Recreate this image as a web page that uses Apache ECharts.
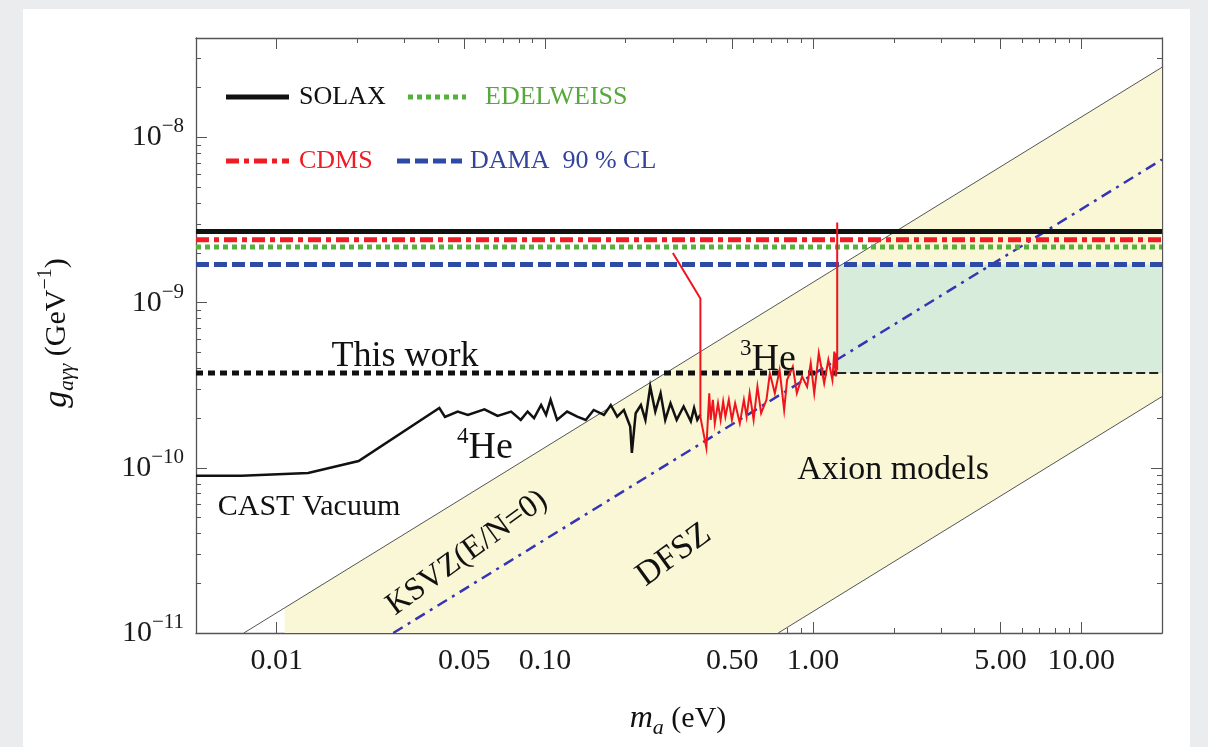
<!DOCTYPE html>
<html><head><meta charset="utf-8">
<script src="https://cdn.jsdelivr.net/npm/echarts@6/dist/echarts.min.js"></script>
<style>
html,body{margin:0;padding:0;background:#ebecee;overflow:hidden;}
#panel{position:absolute;left:23px;top:9px;width:1167px;height:760px;background:#ffffff;}
#c{position:absolute;left:0;top:0;width:1208px;height:747px;}
</style>
</head><body><div id="panel"></div><div id="c"></div>
<script>
// ---------- data ----------
const xMin = 0.005, xMax = 20, yMin = 1e-11, yMax = 4e-8;
const xMajorTicks = [0.01, 0.05, 0.1, 0.5, 1, 5, 10];
const xTickLabels = ['0.01', '0.05', '0.10', '0.50', '1.00', '5.00', '10.00'];
const xMinorTicks = [0.02, 0.03, 0.04, 0.06, 0.07, 0.08, 0.09, 0.2, 0.3, 0.4, 0.6, 0.7, 0.8, 0.9, 2, 3, 4, 6, 7, 8, 9];
const yMajorTicks = [1e-11, 1e-10, 1e-9, 1e-8];
const yTickExponents = ['\u221211', '\u221210', '\u22129', '\u22128'];
const yMinorTicks = [2e-11, 3e-11, 4e-11, 5e-11, 6e-11, 7e-11, 8e-11, 9e-11,
  2e-10, 3e-10, 4e-10, 5e-10, 6e-10, 7e-10, 8e-10, 9e-10,
  2e-9, 3e-9, 4e-9, 5e-9, 6e-9, 7e-9, 8e-9, 9e-9, 2e-8, 3e-8];

// horizontal exclusion limits
const limitNames = ['SOLAX', 'CDMS', 'EDELWEISS', 'DAMA 90% CL', 'This work'];
const limitValues = [2.7e-9, 2.4e-9, 2.17e-9, 1.7e-9, 3.75e-10];
const he3EdgeMass = 1.23;

// axion model band edges and KSVZ line (endpoints)
const bandUpperM = [0.00754, 20], bandUpperG = [1e-11, 2.66e-8];
const bandLowerM = [0.741, 20], bandLowerG = [1e-11, 2.7e-10];
const ksvzM = [0.0272, 20], ksvzG = [1e-11, 7.35e-9];
const bandFillM = [0.0107, 0.0107, 20, 20, 0.741];
const bandFillG = [1e-11, 1.42e-11, 2.66e-8, 2.7e-10, 1e-11];
const greenM = [1.23, 20], greenG = [3.75e-10, 1.7e-9];

// CAST 4He data
const he4M = [0.005, 0.0074, 0.0131, 0.0202, 0.0404, 0.0424, 0.0473, 0.0516, 0.0595, 0.0666, 0.0748, 0.0813,
  0.0862, 0.0911, 0.0968, 0.101, 0.105, 0.111, 0.121, 0.132, 0.142, 0.152, 0.166, 0.176,
  0.186, 0.197, 0.208, 0.211, 0.218, 0.228, 0.237, 0.247, 0.258, 0.270, 0.281, 0.294,
  0.310, 0.329, 0.350, 0.360, 0.370, 0.380];
const he4G = [0.895e-10, 0.895e-10, 0.93e-10, 1.10e-10, 2.30e-10, 2.03e-10, 2.19e-10, 2.09e-10, 2.26e-10, 2.06e-10, 2.19e-10, 1.95e-10,
  2.19e-10, 2.00e-10, 2.40e-10, 2.09e-10, 2.58e-10, 1.95e-10, 2.19e-10, 2.04e-10, 1.95e-10, 2.24e-10, 2.09e-10, 2.40e-10,
  2.04e-10, 2.24e-10, 1.78e-10, 1.23e-10, 2.14e-10, 2.40e-10, 1.95e-10, 3.10e-10, 2.19e-10, 2.83e-10, 1.95e-10, 2.46e-10,
  1.95e-10, 2.35e-10, 1.91e-10, 2.30e-10, 1.95e-10, 2.10e-10];

// CAST 3He data
const he3M = [0.30, 0.38, 0.38, 0.400, 0.41, 0.415, 0.423, 0.430, 0.442, 0.452, 0.462, 0.471,
  0.485, 0.498, 0.512, 0.533, 0.552, 0.565, 0.58, 0.60, 0.62, 0.64, 0.67, 0.69,
  0.72, 0.75, 0.78, 0.80, 0.84, 0.87, 0.91, 0.95, 0.98, 1.01, 1.05, 1.10,
  1.14, 1.18, 1.20, 1.215, 1.22, 1.23, 1.23];
const he3G = [20e-10, 10.6e-10, 2.03e-10, 1.32e-10, 2.83e-10, 1.95e-10, 2.58e-10, 1.86e-10, 2.46e-10, 1.95e-10, 2.52e-10, 2.04e-10,
  2.58e-10, 1.95e-10, 2.46e-10, 1.86e-10, 2.58e-10, 2.04e-10, 2.83e-10, 1.95e-10, 3.10e-10, 2.14e-10, 2.58e-10, 3.73e-10,
  2.83e-10, 3.91e-10, 2.24e-10, 3.41e-10, 4.10e-10, 2.83e-10, 3.57e-10, 3.10e-10, 4.30e-10, 2.83e-10, 4.94e-10, 3.25e-10,
  4.50e-10, 3.41e-10, 5.05e-10, 3.57e-10, 4.94e-10, 3.90e-10, 30.6e-10];

// ---------- helpers ----------
const FONT = '"Liberation Serif", "DejaVu Serif", serif';
const AX = '#555555';
const zip = (a, b) => a.map((v, i) => [v, b[i]]);
function nearestIdx(arr, v) {
  let best = 0, bd = Infinity;
  arr.forEach((t, i) => { const d = Math.abs(Math.log10(v / t)); if (d < bd) { bd = d; best = i; } });
  return best;
}
function xAxisCfg(pos, ticks, len, showLine, showLabels) {
  return {
    type: 'log', logBase: 10, min: xMin, max: xMax, position: pos, gridIndex: 0,
    axisLine: { show: showLine, onZero: false, lineStyle: { color: AX, width: 1.3 } },
    axisTick: { show: true, inside: true, length: len, customValues: ticks, lineStyle: { color: AX, width: 1 } },
    axisLabel: showLabels ? {
      show: true, customValues: xMajorTicks, margin: 13, color: '#1a1a1a', fontFamily: FONT, fontSize: 30,
      formatter: v => xTickLabels[nearestIdx(xMajorTicks, v)]
    } : { show: false },
    splitLine: { show: false }, minorTick: { show: false }
  };
}
function yAxisCfg(pos, ticks, len, showLine, showLabels) {
  return {
    type: 'log', logBase: 10, min: yMin, max: yMax, position: pos, gridIndex: 0,
    axisLine: { show: showLine, onZero: false, lineStyle: { color: AX, width: 1.3 } },
    axisTick: { show: true, inside: true, length: len, customValues: ticks, lineStyle: { color: AX, width: 1 } },
    axisLabel: showLabels ? {
      show: true, customValues: yMajorTicks, margin: 12, color: '#1a1a1a', fontFamily: FONT,
      formatter: v => '{b|10}{s|' + yTickExponents[nearestIdx(yMajorTicks, v)] + '}',
      rich: {
        b: { fontFamily: FONT, fontSize: 30, lineHeight: 42, color: '#1a1a1a' },
        s: { fontFamily: FONT, fontSize: 21, lineHeight: 21, verticalAlign: 'top', color: '#1a1a1a' }
      }
    } : { show: false },
    splitLine: { show: false }, minorTick: { show: false }
  };
}
function hLine(name, y, x0, x1, color, width, type, z) {
  return {
    type: 'line', name, data: [[x0, y], [x1, y]], symbol: 'none', silent: true, z,
    lineStyle: { color, width, type, cap: 'butt' }, xAxisIndex: 0, yAxisIndex: 0, animation: false
  };
}
function polySeries(name, pts, color, z) {
  return {
    type: 'custom', name, data: pts, z, silent: true, clip: true, animation: false,
    renderItem: (params, api) => {
      if (params.dataIndex !== 0) return null;
      return {
        type: 'polygon',
        shape: { points: pts.map(p => api.coord(p)) },
        style: { fill: color, stroke: null }
      };
    }
  };
}

const greenPts = [[greenM[0], greenG[0]], [greenM[1], greenG[0]], [greenM[1], greenG[1]], [greenM[0], greenG[1]]];

const series = [
  polySeries('Axion models', zip(bandFillM, bandFillG), '#faf7d6', 1),
  polySeries('DAMA region', greenPts, '#d8ecdb', 2),
  { type: 'line', name: 'band upper', data: zip(bandUpperM, bandUpperG), symbol: 'none', z: 3, animation: false,
    lineStyle: { color: '#555', width: 1 } },
  { type: 'line', name: 'band lower', data: zip(bandLowerM, bandLowerG), symbol: 'none', z: 3, animation: false,
    lineStyle: { color: '#555', width: 1 } },
  { type: 'line', name: 'KSVZ', data: zip(ksvzM, ksvzG), symbol: 'none', z: 4, animation: false,
    lineStyle: { color: '#3434b4', width: 2.5, type: [11, 6, 3, 6], cap: 'butt' } },
  hLine(limitNames[0], limitValues[0], xMin, xMax, '#111111', 5, 'solid', 6),
  hLine(limitNames[1], limitValues[1], xMin, xMax, '#ee1c25', 5, [13, 5, 5, 5], 6),
  hLine(limitNames[2], limitValues[2], xMin, xMax, '#55b13c', 5, [5, 4], 6),
  hLine(limitNames[3], limitValues[3], xMin, xMax, '#2d4ba6', 5, [13, 5], 6),
  hLine(limitNames[4], limitValues[4], xMin, he3EdgeMass, '#111111', 5, [7, 5], 6),
  hLine(limitNames[4] + ' (3He)', limitValues[4], he3EdgeMass, xMax, '#222222', 2.2, [9, 4], 6),
  { type: 'line', name: 'CAST 4He', data: zip(he4M, he4G), symbol: 'none', z: 7, animation: false,
    lineStyle: { color: '#111111', width: 2.5, join: 'miter' } },
  { type: 'line', name: 'CAST 3He', data: zip(he3M, he3G), symbol: 'none', z: 8, animation: false,
    lineStyle: { color: '#f0141e', width: 2, join: 'miter' } }
];

function txt(text, x, y, size, color, opts) {
  return Object.assign({
    type: 'text', x, y, z: 100, silent: true,
    style: { text, fill: color || '#111', font: size + 'px ' + FONT, align: 'center', verticalAlign: 'middle' }
  }, opts || {});
}
function legText(text, x, y, color) {
  return { type: 'text', x, y, z: 100, silent: true,
    style: { text, fill: color, font: '26px ' + FONT, align: 'left', verticalAlign: 'middle' } };
}
function legLine(x0, x1, y, color, dash) {
  return { type: 'line', z: 100, silent: true, shape: { x1: x0, y1: y, x2: x1, y2: y },
    style: { stroke: color, lineWidth: 5, lineDash: dash, lineCap: 'butt' } };
}

const graphics = [
  legLine(226, 289, 97, '#111111', null),
  legText('SOLAX', 299, 97, '#111111'),
  legLine(408, 466, 97, '#55b13c', [5, 4]),
  legText('EDELWEISS', 485, 97, '#55a83a'),
  legLine(226, 289, 161, '#ee1c25', [13, 5, 5, 5]),
  legText('CDMS', 299, 161, '#ee1c25'),
  legLine(397, 462, 161, '#2d4ba6', [13, 5]),
  legText('DAMA  90 % CL', 470, 161, '#34449c'),

  txt('This work', 405, 357, 36),
  { type: 'text', x: 768, y: 360, z: 100, silent: true,
    style: { text: '{s|3}{b|He}', align: 'center', verticalAlign: 'middle',
      rich: { s: { font: '23px ' + FONT, fill: '#111', verticalAlign: 'top', lineHeight: 23 },
              b: { font: '38px ' + FONT, fill: '#111', lineHeight: 46 } } } },
  { type: 'text', x: 485, y: 448, z: 100, silent: true,
    style: { text: '{s|4}{b|He}', align: 'center', verticalAlign: 'middle',
      rich: { s: { font: '23px ' + FONT, fill: '#111', verticalAlign: 'top', lineHeight: 23 },
              b: { font: '38px ' + FONT, fill: '#111', lineHeight: 46 } } } },
  txt('CAST Vacuum', 309, 507, 30),
  txt('Axion models', 893, 470, 34),
  txt('KSVZ(E/N=0)', 467, 553, 32, '#111', { rotation: 36 * Math.PI / 180 }),
  txt('DFSZ', 674, 555, 34, '#111', { rotation: 36 * Math.PI / 180 }),

  { type: 'text', x: 57, y: 333, z: 100, silent: true, rotation: Math.PI / 2,
    style: { text: '{g|g}{sub|a\u03b3\u03b3}{t| (GeV}{sup|\u22121}{t|)}', align: 'center', verticalAlign: 'middle',
      rich: {
        g: { font: 'italic 34px ' + FONT, fill: '#111', lineHeight: 42 },
        sub: { font: 'italic 21px ' + FONT, fill: '#111', lineHeight: 18, verticalAlign: 'bottom' },
        t: { font: '30px ' + FONT, fill: '#111', lineHeight: 42 },
        sup: { font: '20px ' + FONT, fill: '#111', lineHeight: 20, verticalAlign: 'top' }
      } } },
  { type: 'text', x: 678, y: 719, z: 100, silent: true,
    style: { text: '{m|m}{sub|a}{t| (eV)}', align: 'center', verticalAlign: 'middle',
      rich: {
        m: { font: 'italic 32px ' + FONT, fill: '#111', lineHeight: 40 },
        sub: { font: 'italic 22px ' + FONT, fill: '#111', lineHeight: 18, verticalAlign: 'bottom' },
        t: { font: '30px ' + FONT, fill: '#111', lineHeight: 40 }
      } } }
];

const chart = echarts.init(document.getElementById('c'), null, { renderer: 'canvas' });
chart.setOption({
  backgroundColor: 'transparent',
  animation: false,
  grid: { left: 196, right: 46, top: 38, bottom: 114, containLabel: false, outerBoundsMode: 'none' },
  xAxis: [
    xAxisCfg('bottom', xMajorTicks, 11, true, true),
    xAxisCfg('bottom', xMinorTicks, 5, false, false),
    xAxisCfg('top', xMajorTicks, 11, true, false),
    xAxisCfg('top', xMinorTicks, 5, false, false)
  ],
  yAxis: [
    yAxisCfg('left', yMajorTicks, 11, true, true),
    yAxisCfg('left', yMinorTicks, 5, false, false),
    yAxisCfg('right', yMajorTicks, 11, true, false),
    yAxisCfg('right', yMinorTicks, 5, false, false)
  ],
  series,
  graphic: { elements: graphics }
});
</script>
</body></html>
